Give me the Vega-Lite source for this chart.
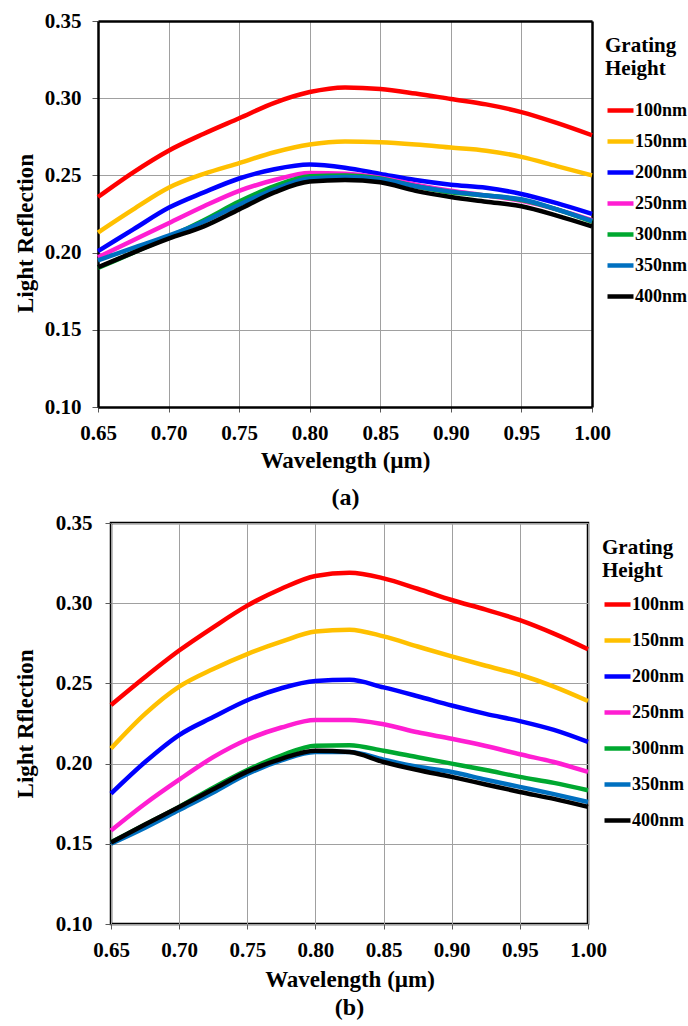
{
"$schema": "https://vega.github.io/schema/vega-lite/v6.json",
"background": "white",
"padding": {"left": 13, "top": 10, "right": 0, "bottom": 0},
"spacing": 0,
"resolve": {"scale": {"color": "independent"}, "legend": {"color": "independent"}},
"config": {
  "font": "Liberation Serif",
  "view": {"stroke": "black", "strokeWidth": 2.5},
  "axis": {"labelFont": "Liberation Serif", "labelFontWeight": "bold", "labelFontSize": 21, "labelColor": "black",
           "titleFont": "Liberation Serif", "titleFontWeight": "bold", "titleFontSize": 23, "titleColor": "black",
           "gridColor": "#A0A0A0", "gridOpacity": 1, "gridWidth": 1, "domain": false, "tickColor": "#595959", "tickWidth": 1,
           "labelFlush": false, "labelOverlap": false},
  "legend": {"titleFont": "Liberation Serif", "titleFontWeight": "bold", "titleFontSize": 21, "titleColor": "black", "titleLineHeight": 23,
             "labelFont": "Liberation Serif", "labelFontWeight": "bold", "labelFontSize": 18, "labelColor": "black",
             "symbolType": "stroke", "symbolStrokeWidth": 4.5, "symbolSize": 676, "labelOffset": -1, "orient": "right"},
  "title": {"font": "Liberation Serif", "fontWeight": "bold", "fontSize": 24, "color": "black"}
},
"vconcat": [
{
  "width": 481, "height": 386,
  "view": {"stroke": null},
  "title": {"text": "(a)", "orient": "bottom", "frame": "group", "anchor": "middle", "offset": 14, "dx": -6},
  "data": {"name": "a"},
  "layer": [
    {
      "mark": {"type": "line", "strokeWidth": 4.5, "interpolate": "monotone"},
      "encoding": {
        "x": {"field": "w", "type": "quantitative", "scale": {"domain": [0.65, 1.0], "nice": false, "zero": false, "range": [-13, 481]},
              "axis": {"title": "Wavelength (µm)", "values": [0.65,0.7,0.75,0.8,0.85,0.9,0.95,1.0], "format": ".2f", "tickSize": 5, "labelPadding": 10, "titlePadding": 6,
                       "domain": true, "domainColor": "black", "domainWidth": 2.5}},
        "y": {"field": "r", "type": "quantitative", "scale": {"domain": [0.10, 0.35], "nice": false, "zero": false},
              "axis": {"title": "Light Reflection", "values": [0.1,0.15,0.2,0.25,0.3,0.35], "format": ".2f", "tickSize": 6, "labelPadding": 11, "titlePadding": 7, "titleY": 212,
                       "offset": 13, "domain": true, "domainColor": "black", "domainWidth": 2.5}},
        "color": {"field": "g", "type": "nominal",
                  "scale": {"domain": ["100nm","150nm","200nm","250nm","300nm","350nm","400nm"], "range": ["#FF0000","#FFC000","#0000FF","#FF1ED2","#00A830","#0070C0","#000000"]},
                  "legend": {"title": ["Grating", "Height"], "offset": -10, "padding": 14, "titlePadding": 16, "rowPadding": 6}}
      }
    },
    {
      "mark": {"type": "line", "opacity": 0},
      "encoding": {
        "x": {"field": "w", "type": "quantitative", "axis": {"orient": "top", "labels": false, "ticks": false, "grid": false, "title": null, "domain": true, "domainColor": "black", "domainWidth": 2.5}},
        "y": {"field": "r", "type": "quantitative", "axis": {"orient": "right", "labels": false, "ticks": false, "grid": false, "title": null, "domain": true, "domainColor": "black", "domainWidth": 2.5}}
      }
    }
  ],
  "resolve": {"axis": {"x": "independent", "y": "independent"}}
},
{
  "width": 477, "height": 401,
  "title": {"text": "(b)", "orient": "bottom", "frame": "group", "anchor": "middle", "offset": 5},
  "data": {"name": "b"},
  "mark": {"type": "line", "strokeWidth": 4.5, "interpolate": "monotone"},
  "encoding": {
    "x": {"field": "w", "type": "quantitative", "scale": {"domain": [0.65, 1.0], "nice": false, "zero": false},
          "axis": {"title": "Wavelength (µm)", "values": [0.65,0.7,0.75,0.8,0.85,0.9,0.95,1.0], "format": ".2f", "tickSize": 5, "labelPadding": 10, "titlePadding": 8}},
    "y": {"field": "r", "type": "quantitative", "scale": {"domain": [0.10, 0.35], "nice": false, "zero": false},
          "axis": {"title": "Light Rflection", "values": [0.1,0.15,0.2,0.25,0.3,0.35], "format": ".2f", "tickSize": 6, "labelPadding": 13, "titlePadding": 18}},
    "color": {"field": "g", "type": "nominal",
              "scale": {"domain": ["100nm","150nm","200nm","250nm","300nm","350nm","400nm"], "range": ["#FF0000","#FFC000","#0000FF","#FF1ED2","#00A830","#0070C0","#000000"]},
              "legend": {"title": ["Grating", "Height"], "offset": -9, "padding": 14, "titlePadding": 8, "rowPadding": 11}}
  }
}
],
"datasets": {
"a": [
{"w":0.65,"g":"100nm","r":0.236},{"w":0.675,"g":"100nm","r":0.252},{"w":0.7,"g":"100nm","r":0.266},{"w":0.725,"g":"100nm","r":0.277},{"w":0.75,"g":"100nm","r":0.287},{"w":0.775,"g":"100nm","r":0.297},{"w":0.8,"g":"100nm","r":0.304},{"w":0.825,"g":"100nm","r":0.307},{"w":0.85,"g":"100nm","r":0.306},{"w":0.875,"g":"100nm","r":0.303},{"w":0.9,"g":"100nm","r":0.2995},{"w":0.925,"g":"100nm","r":0.296},{"w":0.95,"g":"100nm","r":0.291},{"w":0.975,"g":"100nm","r":0.284},{"w":1.0,"g":"100nm","r":0.276},
{"w":0.65,"g":"150nm","r":0.213},{"w":0.675,"g":"150nm","r":0.228},{"w":0.7,"g":"150nm","r":0.242},{"w":0.725,"g":"150nm","r":0.251},{"w":0.75,"g":"150nm","r":0.258},{"w":0.775,"g":"150nm","r":0.265},{"w":0.8,"g":"150nm","r":0.27},{"w":0.825,"g":"150nm","r":0.272},{"w":0.85,"g":"150nm","r":0.2715},{"w":0.875,"g":"150nm","r":0.27},{"w":0.9,"g":"150nm","r":0.268},{"w":0.925,"g":"150nm","r":0.266},{"w":0.95,"g":"150nm","r":0.262},{"w":0.975,"g":"150nm","r":0.256},{"w":1.0,"g":"150nm","r":0.25},
{"w":0.65,"g":"200nm","r":0.201},{"w":0.675,"g":"200nm","r":0.215},{"w":0.7,"g":"200nm","r":0.229},{"w":0.725,"g":"200nm","r":0.239},{"w":0.75,"g":"200nm","r":0.248},{"w":0.775,"g":"200nm","r":0.254},{"w":0.8,"g":"200nm","r":0.257},{"w":0.825,"g":"200nm","r":0.255},{"w":0.85,"g":"200nm","r":0.251},{"w":0.875,"g":"200nm","r":0.247},{"w":0.9,"g":"200nm","r":0.244},{"w":0.925,"g":"200nm","r":0.242},{"w":0.95,"g":"200nm","r":0.238},{"w":0.975,"g":"200nm","r":0.232},{"w":1.0,"g":"200nm","r":0.225},
{"w":0.65,"g":"250nm","r":0.197},{"w":0.675,"g":"250nm","r":0.208},{"w":0.7,"g":"250nm","r":0.219},{"w":0.725,"g":"250nm","r":0.23},{"w":0.75,"g":"250nm","r":0.24},{"w":0.775,"g":"250nm","r":0.247},{"w":0.8,"g":"250nm","r":0.2515},{"w":0.825,"g":"250nm","r":0.251},{"w":0.85,"g":"250nm","r":0.2485},{"w":0.875,"g":"250nm","r":0.244},{"w":0.9,"g":"250nm","r":0.24},{"w":0.925,"g":"250nm","r":0.237},{"w":0.95,"g":"250nm","r":0.2335},{"w":0.975,"g":"250nm","r":0.228},{"w":1.0,"g":"250nm","r":0.221},
{"w":0.65,"g":"300nm","r":0.19},{"w":0.675,"g":"300nm","r":0.2},{"w":0.7,"g":"300nm","r":0.21},{"w":0.725,"g":"300nm","r":0.221},{"w":0.75,"g":"300nm","r":0.233},{"w":0.775,"g":"300nm","r":0.243},{"w":0.8,"g":"300nm","r":0.2495},{"w":0.825,"g":"300nm","r":0.25},{"w":0.85,"g":"300nm","r":0.248},{"w":0.875,"g":"300nm","r":0.243},{"w":0.9,"g":"300nm","r":0.239},{"w":0.925,"g":"300nm","r":0.237},{"w":0.95,"g":"300nm","r":0.234},{"w":0.975,"g":"300nm","r":0.228},{"w":1.0,"g":"300nm","r":0.22},
{"w":0.65,"g":"350nm","r":0.195},{"w":0.675,"g":"350nm","r":0.203},{"w":0.7,"g":"350nm","r":0.211},{"w":0.725,"g":"350nm","r":0.22},{"w":0.75,"g":"350nm","r":0.231},{"w":0.775,"g":"350nm","r":0.241},{"w":0.8,"g":"350nm","r":0.248},{"w":0.825,"g":"350nm","r":0.249},{"w":0.85,"g":"350nm","r":0.2475},{"w":0.875,"g":"350nm","r":0.243},{"w":0.9,"g":"350nm","r":0.2395},{"w":0.925,"g":"350nm","r":0.237},{"w":0.95,"g":"350nm","r":0.2345},{"w":0.975,"g":"350nm","r":0.228},{"w":1.0,"g":"350nm","r":0.2205},
{"w":0.65,"g":"400nm","r":0.1905},{"w":0.675,"g":"400nm","r":0.2},{"w":0.7,"g":"400nm","r":0.209},{"w":0.725,"g":"400nm","r":0.217},{"w":0.75,"g":"400nm","r":0.228},{"w":0.775,"g":"400nm","r":0.239},{"w":0.8,"g":"400nm","r":0.246},{"w":0.825,"g":"400nm","r":0.247},{"w":0.85,"g":"400nm","r":0.2455},{"w":0.875,"g":"400nm","r":0.24},{"w":0.9,"g":"400nm","r":0.236},{"w":0.925,"g":"400nm","r":0.233},{"w":0.95,"g":"400nm","r":0.23},{"w":0.975,"g":"400nm","r":0.224},{"w":1.0,"g":"400nm","r":0.217}
],
"b": [
{"w":0.65,"g":"100nm","r":0.2365},{"w":0.675,"g":"100nm","r":0.254},{"w":0.7,"g":"100nm","r":0.2705},{"w":0.725,"g":"100nm","r":0.285},{"w":0.75,"g":"100nm","r":0.2985},{"w":0.775,"g":"100nm","r":0.309},{"w":0.8,"g":"100nm","r":0.317},{"w":0.825,"g":"100nm","r":0.319},{"w":0.85,"g":"100nm","r":0.3155},{"w":0.875,"g":"100nm","r":0.309},{"w":0.9,"g":"100nm","r":0.302},{"w":0.925,"g":"100nm","r":0.296},{"w":0.95,"g":"100nm","r":0.2894},{"w":0.975,"g":"100nm","r":0.281},{"w":1.0,"g":"100nm","r":0.2713},
{"w":0.65,"g":"150nm","r":0.2094},{"w":0.675,"g":"150nm","r":0.231},{"w":0.7,"g":"150nm","r":0.248},{"w":0.725,"g":"150nm","r":0.259},{"w":0.75,"g":"150nm","r":0.2683},{"w":0.775,"g":"150nm","r":0.276},{"w":0.8,"g":"150nm","r":0.2823},{"w":0.825,"g":"150nm","r":0.2835},{"w":0.85,"g":"150nm","r":0.2793},{"w":0.875,"g":"150nm","r":0.273},{"w":0.9,"g":"150nm","r":0.2668},{"w":0.925,"g":"150nm","r":0.261},{"w":0.95,"g":"150nm","r":0.2554},{"w":0.975,"g":"150nm","r":0.248},{"w":1.0,"g":"150nm","r":0.239},
{"w":0.65,"g":"200nm","r":0.1813},{"w":0.675,"g":"200nm","r":0.201},{"w":0.7,"g":"200nm","r":0.2178},{"w":0.725,"g":"200nm","r":0.229},{"w":0.75,"g":"200nm","r":0.2395},{"w":0.775,"g":"200nm","r":0.247},{"w":0.8,"g":"200nm","r":0.2515},{"w":0.825,"g":"200nm","r":0.2522},{"w":0.85,"g":"200nm","r":0.2475},{"w":0.875,"g":"200nm","r":0.242},{"w":0.9,"g":"200nm","r":0.2362},{"w":0.925,"g":"200nm","r":0.231},{"w":0.95,"g":"200nm","r":0.2265},{"w":0.975,"g":"200nm","r":0.221},{"w":1.0,"g":"200nm","r":0.2135},
{"w":0.65,"g":"250nm","r":0.1583},{"w":0.675,"g":"250nm","r":0.175},{"w":0.7,"g":"250nm","r":0.19},{"w":0.725,"g":"250nm","r":0.204},{"w":0.75,"g":"250nm","r":0.215},{"w":0.775,"g":"250nm","r":0.2225},{"w":0.8,"g":"250nm","r":0.2272},{"w":0.825,"g":"250nm","r":0.2272},{"w":0.85,"g":"250nm","r":0.2245},{"w":0.875,"g":"250nm","r":0.2195},{"w":0.9,"g":"250nm","r":0.2155},{"w":0.925,"g":"250nm","r":0.211},{"w":0.95,"g":"250nm","r":0.2058},{"w":0.975,"g":"250nm","r":0.201},{"w":1.0,"g":"250nm","r":0.1948},
{"w":0.65,"g":"300nm","r":0.151},{"w":0.675,"g":"300nm","r":0.162},{"w":0.7,"g":"300nm","r":0.173},{"w":0.725,"g":"300nm","r":0.185},{"w":0.75,"g":"300nm","r":0.196},{"w":0.775,"g":"300nm","r":0.205},{"w":0.8,"g":"300nm","r":0.2112},{"w":0.825,"g":"300nm","r":0.2115},{"w":0.85,"g":"300nm","r":0.208},{"w":0.875,"g":"300nm","r":0.204},{"w":0.9,"g":"300nm","r":0.2},{"w":0.925,"g":"300nm","r":0.196},{"w":0.95,"g":"300nm","r":0.1917},{"w":0.975,"g":"300nm","r":0.188},{"w":1.0,"g":"300nm","r":0.1834},
{"w":0.65,"g":"350nm","r":0.15},{"w":0.675,"g":"350nm","r":0.16},{"w":0.7,"g":"350nm","r":0.171},{"w":0.725,"g":"350nm","r":0.182},{"w":0.75,"g":"350nm","r":0.1935},{"w":0.775,"g":"350nm","r":0.202},{"w":0.8,"g":"350nm","r":0.2072},{"w":0.825,"g":"350nm","r":0.2072},{"w":0.85,"g":"350nm","r":0.2025},{"w":0.875,"g":"350nm","r":0.198},{"w":0.9,"g":"350nm","r":0.1948},{"w":0.925,"g":"350nm","r":0.19},{"w":0.95,"g":"350nm","r":0.1855},{"w":0.975,"g":"350nm","r":0.181},{"w":1.0,"g":"350nm","r":0.1761},
{"w":0.65,"g":"400nm","r":0.1508},{"w":0.675,"g":"400nm","r":0.162},{"w":0.7,"g":"400nm","r":0.173},{"w":0.725,"g":"400nm","r":0.184},{"w":0.75,"g":"400nm","r":0.195},{"w":0.775,"g":"400nm","r":0.203},{"w":0.8,"g":"400nm","r":0.208},{"w":0.825,"g":"400nm","r":0.2072},{"w":0.85,"g":"400nm","r":0.201},{"w":0.875,"g":"400nm","r":0.196},{"w":0.9,"g":"400nm","r":0.1917},{"w":0.925,"g":"400nm","r":0.187},{"w":0.95,"g":"400nm","r":0.1823},{"w":0.975,"g":"400nm","r":0.178},{"w":1.0,"g":"400nm","r":0.173}
]
}
}
